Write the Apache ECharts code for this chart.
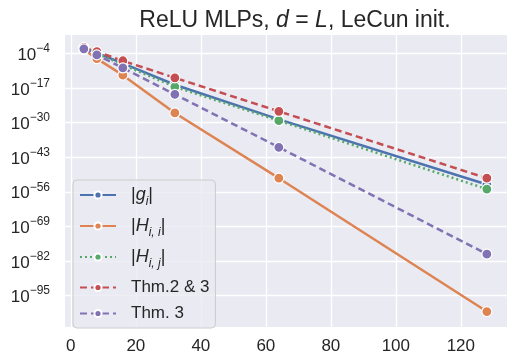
<!DOCTYPE html>
<html>
<head>
<meta charset="utf-8">
<script src="https://cdn.jsdelivr.net/npm/echarts@6/dist/echarts.min.js"></script>
<style>
  html, body { margin: 0; padding: 0; background: #fff; }
  #chart { width: 507px; height: 358px; }
</style>
</head>
<body>
<div id="chart"></div>
<script>
// network depth L (x axis)
const depths = [4, 8, 16, 32, 64, 128]
// log10 of each quantity
const gradExp = [-2.0, -3.8, -7.8, -15.8, -28.8, -53.3]
const hessDiagExp = [-2.6, -6.0, -12.2, -26.4, -50.9, -101.0]
const hessOffExp = [-2.1, -4.0, -8.3, -16.6, -29.3, -55.0]
const thm23Exp = [-1.8, -3.4, -6.8, -13.2, -25.8, -50.9]
const thm3Exp = [-2.3, -4.6, -9.5, -19.4, -39.3, -79.4]

const xTicks = [0, 20, 40, 60, 80, 100, 120]
const yTicks = [-4, -17, -30, -43, -56, -69, -82, -95]

const names = ['g', 'hii', 'hij', 'thm23', 'thm3']
const legendText = {
  g: '{t||}{i|g}{sub|i}{t||}',
  hii: '{t||}{i|H}{sub|i, i}{t||}',
  hij: '{t||}{i|H}{sub|i, j}{t||}',
  thm23: 'Thm.2 & 3',
  thm3: 'Thm. 3'
}
const colors = ['#4c72b0', '#dd8452', '#55a868', '#c44e52', '#8172b3']
const lineTypes = ['solid', 'solid', [2, 3], [7, 4], [7, 4]]
const allExp = [gradExp, hessDiagExp, hessOffExp, thm23Exp, thm3Exp]

const font = 'Liberation Sans'
const ink = '#262626'

const chart = echarts.init(document.getElementById('chart'), null, { renderer: 'canvas' })

const series = names.map((n, k) => ({
  name: n,
  type: 'line',
  data: depths.map((d, j) => [d, allExp[k][j]]),
  symbol: 'circle',
  symbolSize: 10,
  z: 3 + k,
  color: colors[k],
  lineStyle: { width: 2.5, type: lineTypes[k], color: colors[k] },
  itemStyle: { color: colors[k], borderColor: '#fff', borderWidth: 1.2 },
  animation: false
}))

const option = {
  backgroundColor: '#fff',
  title: {
    text: 'ReLU MLPs, {i|d} = {i|L}, LeCun init.',
    left: 290,
    textAlign: 'center',
    top: 4,
    textStyle: {
      fontFamily: font, fontSize: 23, fontWeight: 'normal', color: ink,
      rich: { i: { fontFamily: font, fontSize: 23, fontStyle: 'italic', color: ink } }
    }
  },
  grid: {
    left: 65,
    top: 35,
    width: 452,
    height: 292,
    show: true,
    backgroundColor: '#eaeaf2',
    borderWidth: 0
  },
  xAxis: {
    type: 'value',
    min: -1.8,
    max: 134.2,
    axisLine: { show: false },
    axisTick: { show: false, customValues: xTicks },
    axisLabel: {
      customValues: xTicks,
      fontFamily: font, fontSize: 17, color: ink, margin: 11
    },
    splitLine: { show: true, lineStyle: { color: '#fff', width: 1.3 } }
  },
  yAxis: {
    type: 'value',
    min: -106.8,
    max: 2.88,
    axisLine: { show: false },
    axisTick: { show: false, customValues: yTicks },
    axisLabel: {
      customValues: yTicks,
      margin: 15,
      formatter: v => '{b|10}{s|\u2212' + Math.abs(v) + '}',
      rich: {
        b: { fontFamily: font, fontSize: 17, color: ink, lineHeight: 21, verticalAlign: 'bottom' },
        s: { fontFamily: font, fontSize: 12, color: ink, lineHeight: 21, verticalAlign: 'top' }
      }
    },
    splitLine: { show: true, lineStyle: { color: '#fff', width: 1.3 } }
  },
  legend: {
    orient: 'vertical',
    left: 73,
    top: 180,
    width: 144,
    height: 138,
    padding: [6, 6, 6, 6],
    itemWidth: 36,
    itemHeight: 9,
    itemGap: 9,
    backgroundColor: 'rgba(234,234,242,0.8)',
    borderColor: '#cccccc',
    borderWidth: 1,
    borderRadius: 4,
    data: names,
    formatter: n => legendText[n],
    textStyle: {
      fontFamily: font, fontSize: 17, color: ink, padding: [0, 0, 0, 10],
      rich: {
        t: { fontFamily: font, fontSize: 18, color: ink },
        i: { fontFamily: font, fontSize: 18, fontStyle: 'italic', color: ink },
        sub: { fontFamily: font, fontSize: 12, fontStyle: 'italic', color: ink, verticalAlign: 'bottom', lineHeight: 26 }
      }
    }
  },
  series: series
}

chart.setOption(option)
</script>
</body>
</html>
